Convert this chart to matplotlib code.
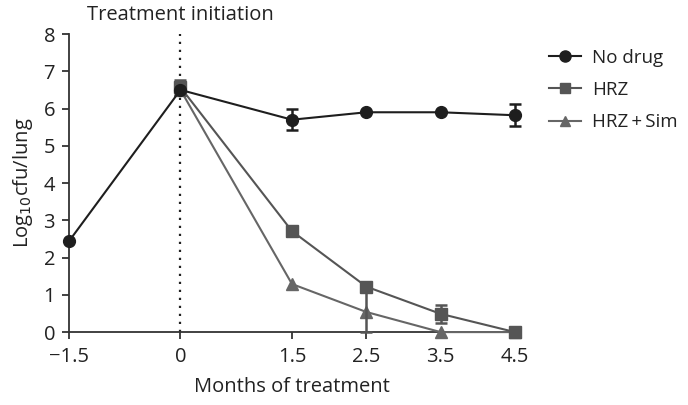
import matplotlib.pyplot as plt
from matplotlib.lines import Line2D

plt.rcParams['font.family'] = ['Open Sans', 'DejaVu Sans']

# data (log10 cfu/lung)
nodrug_x = [-1.5, 0, 1.5, 2.5, 3.5, 4.5]
nodrug_y = [2.44, 6.5, 5.7, 5.9, 5.9, 5.82]
nodrug_err = [0, 0, 0.28, 0, 0, 0.3]

hrz_x = [0, 1.5, 2.5, 3.5, 4.5]
hrz_y = [6.57, 2.71, 1.22, 0.49, 0.0]
hrz_err_lo = [0.2, 0.12, 1.22, 0.24, 0]
hrz_err_hi = [0.2, 0.12, 0, 0.25, 0]

sim_x = [0, 1.5, 2.5, 3.5, 4.5]
sim_y = [6.5, 1.29, 0.54, 0.0, 0.0]

xticks = [-1.5, 0, 1.5, 2.5, 3.5, 4.5]
xticklabels = ['\u22121.5', '0', '1.5', '2.5', '3.5', '4.5']

c_nodrug = '#1e1e1e'
c_hrz = '#555555'
c_sim = '#666666'
fs = 14.5

fig = plt.figure(figsize=(6.88, 4.05), dpi=100)
ax = fig.add_axes([0.1003, 0.180, 0.6482, 0.736])

ax.axvline(0, color='#222222', lw=1.6, ls=(0, (1, 2.6)), zorder=1)

ax.errorbar(sim_x, sim_y, color=c_sim, marker='^', ms=8, lw=1.5,
            clip_on=False, zorder=3)
ax.errorbar(hrz_x, hrz_y, yerr=[hrz_err_lo, hrz_err_hi], color=c_hrz,
            marker='s', ms=8, lw=1.5, capsize=4, elinewidth=1.8, capthick=1.8,
            clip_on=False, zorder=4)
ax.errorbar(nodrug_x, nodrug_y, yerr=nodrug_err, color=c_nodrug, marker='o',
            ms=8.5, lw=1.5, capsize=4, elinewidth=1.8, capthick=1.8,
            clip_on=False, zorder=5)

ax.set_xlim(-1.5, 4.5)
ax.set_ylim(0, 8)
ax.set_xticks(xticks)
ax.set_xticklabels(xticklabels)
ax.set_yticks(range(0, 9))
for s in ['top', 'right']:
    ax.spines[s].set_visible(False)
for s in ['left', 'bottom']:
    ax.spines[s].set_color('#333333')
    ax.spines[s].set_linewidth(1.3)
ax.tick_params(direction='out', length=5, width=1.3, color='#333333',
               labelsize=fs, labelcolor='#222222')
ax.tick_params(axis='x', pad=6)
ax.tick_params(axis='y', pad=5)

ax.set_xlabel('Months of treatment', fontsize=fs, color='#222222', labelpad=7)
ax.set_ylabel('Log$_{10}$cfu/lung', fontsize=fs, color='#222222', labelpad=6)
ax.text(0, 8.25, 'Treatment initiation', ha='center', va='bottom',
        fontsize=fs, color='#222222')

handles = [
    Line2D([], [], color=c_nodrug, marker='o', ms=8, lw=1.5),
    Line2D([], [], color=c_hrz, marker='s', ms=7, lw=1.5),
    Line2D([], [], color=c_sim, marker='^', ms=7.5, lw=1.5),
]
labels = ['No drug', 'HRZ', 'HRZ\u2009+\u2009Sim']
leg = ax.legend(handles, labels, loc='upper left', bbox_to_anchor=(1.06, 0.975),
                frameon=False, fontsize=13.5, handlelength=1.7,
                handletextpad=0.6, labelspacing=0.75, borderaxespad=0)
for t in leg.get_texts():
    t.set_color('#222222')

fig.savefig('out.png', dpi=100)
